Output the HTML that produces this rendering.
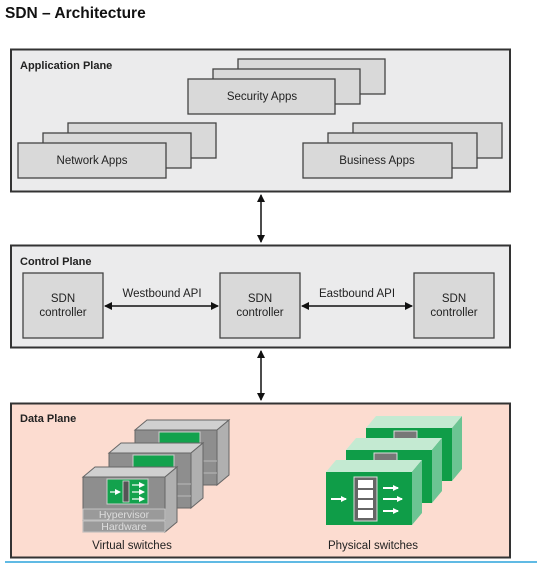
<!DOCTYPE html>
<html><head><meta charset="utf-8"><style>
html,body{margin:0;padding:0;background:#fff;width:542px;height:565px;overflow:hidden}
svg{display:block}
text{font-family:"Liberation Sans",Arial,sans-serif}
</style></head><body>
<svg width="542" height="565" viewBox="0 0 542 565" xmlns="http://www.w3.org/2000/svg">
<defs>
<marker id="ah" markerWidth="8" markerHeight="8" refX="7" refY="4" orient="auto-start-reverse" markerUnits="userSpaceOnUse">
<path d="M0,0 L8,4 L0,8 z" fill="#111"/></marker>
<marker id="wa" markerWidth="6" markerHeight="6" refX="5" refY="3" orient="auto" markerUnits="userSpaceOnUse">
<path d="M0,0 L6,3 L0,6 z" fill="#fff"/></marker>
</defs>
<text x="5" y="18" font-size="15.5" font-weight="bold" fill="#111">SDN – Architecture</text>

<!-- Application plane -->
<rect x="11" y="49.5" width="499" height="142" fill="#ebebec" stroke="#333" stroke-width="2"/>
<text x="20" y="69" font-size="11" font-weight="bold" fill="#222">Application Plane</text>
<g fill="#d9d9d9" stroke="#444" stroke-width="1.3">
<rect x="238" y="59" width="147" height="35"/><rect x="213" y="69" width="147" height="35"/><rect x="188" y="79" width="147" height="35"/>
<rect x="68" y="123" width="148" height="35"/><rect x="43" y="133" width="148" height="35"/><rect x="18" y="143" width="148" height="35"/>
<rect x="353" y="123" width="149" height="35"/><rect x="328" y="133" width="149" height="35"/><rect x="303" y="143" width="149" height="35"/>
</g>
<g font-size="11.5" fill="#222" text-anchor="middle">
<text x="262" y="100">Security Apps</text>
<text x="92" y="164">Network Apps</text>
<text x="377" y="164">Business Apps</text>
</g>

<line x1="261" y1="195" x2="261" y2="242" stroke="#111" stroke-width="1.5" marker-start="url(#ah)" marker-end="url(#ah)"/>

<!-- Control plane -->
<rect x="11" y="245.5" width="499" height="102" fill="#ebebec" stroke="#333" stroke-width="2"/>
<text x="20" y="265" font-size="11" font-weight="bold" fill="#222">Control Plane</text>
<g fill="#d9d9d9" stroke="#444" stroke-width="1.3">
<rect x="23" y="273" width="80" height="65"/><rect x="220" y="273" width="80" height="65"/><rect x="414" y="273" width="80" height="65"/>
</g>
<g font-size="11.5" fill="#222" text-anchor="middle">
<text x="63" y="302">SDN</text><text x="63" y="316">controller</text>
<text x="260" y="302">SDN</text><text x="260" y="316">controller</text>
<text x="454" y="302">SDN</text><text x="454" y="316">controller</text>
<text x="162" y="297">Westbound API</text>
<text x="357" y="297">Eastbound API</text>
</g>
<line x1="105" y1="306" x2="218" y2="306" stroke="#111" stroke-width="1.5" marker-start="url(#ah)" marker-end="url(#ah)"/>
<line x1="302" y1="306" x2="412" y2="306" stroke="#111" stroke-width="1.5" marker-start="url(#ah)" marker-end="url(#ah)"/>

<line x1="261" y1="351" x2="261" y2="400" stroke="#111" stroke-width="1.5" marker-start="url(#ah)" marker-end="url(#ah)"/>

<!-- Data plane -->
<rect x="11" y="403.5" width="499" height="154" fill="#fcdcd0" stroke="#333" stroke-width="2"/>
<text x="20" y="422" font-size="11" font-weight="bold" fill="#222">Data Plane</text>

<!-- virtual switches -->
<g id="vs">
<g transform="translate(52,-47)">
<polygon points="83,477 95,467 177,467 165,477" fill="#d0d0d0" stroke="#666" stroke-width="1"/>
<polygon points="165,477 177,467 177,522 165,532" fill="#b0b0b0" stroke="#666" stroke-width="1"/>
<rect x="83" y="477" width="82" height="55" fill="#8e8e8e" stroke="#666" stroke-width="1"/>
<rect x="107" y="479" width="41" height="25" fill="#13a24d" stroke="#ccc" stroke-width="1"/>
<line x1="83" y1="508" x2="165" y2="508" stroke="#bbb"/><line x1="83" y1="520" x2="165" y2="520" stroke="#bbb"/>
</g>
<g transform="translate(26,-24)">
<polygon points="83,477 95,467 177,467 165,477" fill="#d0d0d0" stroke="#666" stroke-width="1"/>
<polygon points="165,477 177,467 177,522 165,532" fill="#b0b0b0" stroke="#666" stroke-width="1"/>
<rect x="83" y="477" width="82" height="55" fill="#8e8e8e" stroke="#666" stroke-width="1"/>
<rect x="107" y="479" width="41" height="25" fill="#13a24d" stroke="#ccc" stroke-width="1"/>
<line x1="83" y1="508" x2="165" y2="508" stroke="#bbb"/><line x1="83" y1="520" x2="165" y2="520" stroke="#bbb"/>
</g>
<polygon points="83,477 95,467 177,467 165,477" fill="#d0d0d0" stroke="#666" stroke-width="1"/>
<polygon points="165,477 177,467 177,522 165,532" fill="#b0b0b0" stroke="#666" stroke-width="1"/>
<rect x="83" y="477" width="82" height="55" fill="#8e8e8e" stroke="#666" stroke-width="1"/>
<rect x="107" y="479" width="41" height="25" fill="#13a24d" stroke="#ccc" stroke-width="1"/>
<rect x="123" y="481" width="6" height="21" fill="#555" stroke="#ddd" stroke-width="0.8"/>
<g stroke="#fff" stroke-width="1.2" marker-end="url(#wa)"><line x1="110" y1="492" x2="120" y2="492"/><line x1="132" y1="485" x2="144" y2="485"/><line x1="132" y1="492" x2="144" y2="492"/><line x1="132" y1="499" x2="144" y2="499"/></g>
<rect x="83" y="509" width="82" height="11" fill="#9a9a9a" stroke="#ccc" stroke-width="0.8"/>
<rect x="83" y="521" width="82" height="11" fill="#9a9a9a" stroke="#ccc" stroke-width="0.8"/>
<text x="124" y="518" font-size="10.5" fill="#ddd" text-anchor="middle">Hypervisor</text>
<text x="124" y="530" font-size="10.5" fill="#ddd" text-anchor="middle">Hardware</text>
</g>

<!-- physical switches -->
<g transform="translate(40,-44)">
<polygon points="326,472 336,460 422,460 412,472" fill="#c4ead2"/>
<polygon points="412,472 422,460 422,513 412,525" fill="#6cc493"/>
<rect x="326" y="472" width="86" height="53" fill="#0f9d48"/>
<rect x="354" y="475" width="23" height="10" fill="#777" stroke="#ddd"/>
</g>
<g transform="translate(20,-22)">
<polygon points="326,472 336,460 422,460 412,472" fill="#c4ead2"/>
<polygon points="412,472 422,460 422,513 412,525" fill="#6cc493"/>
<rect x="326" y="472" width="86" height="53" fill="#0f9d48"/>
<rect x="354" y="475" width="23" height="10" fill="#777" stroke="#ddd"/>
</g>
<polygon points="326,472 336,460 422,460 412,472" fill="#c4ead2"/>
<polygon points="412,472 422,460 422,513 412,525" fill="#6cc493"/>
<rect x="326" y="472" width="86" height="53" fill="#0f9d48"/>
<rect x="354" y="477" width="23" height="44" fill="#666" stroke="#ddd" stroke-width="1"/>
<g fill="#fff"><rect x="358" y="480" width="15" height="8"/><rect x="358" y="490" width="15" height="8"/><rect x="358" y="500" width="15" height="8"/><rect x="358" y="510" width="15" height="8"/></g>
<g stroke="#fff" stroke-width="2" marker-end="url(#wa)"><line x1="331" y1="499" x2="346" y2="499"/><line x1="383" y1="488" x2="398" y2="488"/><line x1="383" y1="499" x2="402" y2="499"/><line x1="383" y1="511" x2="398" y2="511"/></g>

<g font-size="11.5" fill="#222" text-anchor="middle">
<text x="132" y="549">Virtual switches</text>
<text x="373" y="549">Physical switches</text>
</g>
<line x1="5" y1="562" x2="537" y2="562" stroke="#2ba3dc" stroke-width="1.5"/>
</svg>
</body></html>
